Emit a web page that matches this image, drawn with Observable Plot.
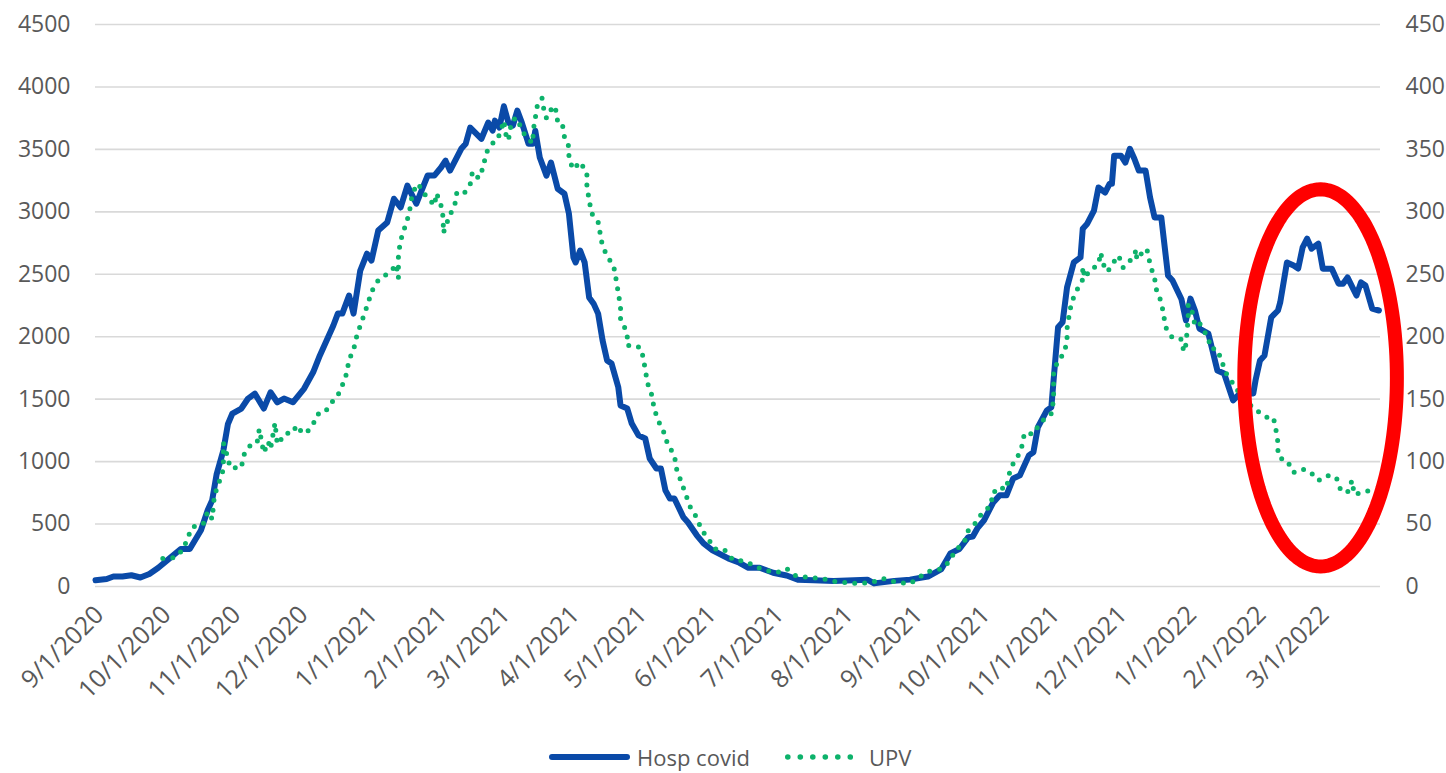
<!DOCTYPE html>
<html>
<head>
<meta charset="utf-8">
<script src="https://cdn.jsdelivr.net/npm/d3@7"></script>
<script src="https://cdn.jsdelivr.net/npm/@observablehq/plot@0.6"></script>
<style>
  html, body { margin: 0; padding: 0; background: #fff; overflow: hidden; }
  #chart svg { display: block; }
  .legend { display: flex; align-items: center; height: 33px; padding-left: 549px;
            font-family: "Open Sans", sans-serif; font-size: 22px; color: #595959; }
  .legend svg { display: block; }
</style>
</head>
<body>
<div id="chart"></div>
<div class="legend" id="legend"></div>
<script>
// ---- data (days counted from startDate) ----
const startDate = "2020-09-01";
const seriesNames = ["Hosp covid", "UPV"];

const hospDays = [0,5,8,12,16,20,24,28,33,38,42,47,50,52,54,57,59,61,65,68,71,75,78,81,84,88,93,97,100,103,106,108,110,113,115,118,121,123,126,130,133,136,139,143,148,151,154,156,158,163,165,167,172,175,177,178,180,182,184,186,188,190,193,195,196,198,201,203,206,209,211,213,214,216,218,220,222,224,226,228,230,233,234,237,239,242,245,247,250,252,254,256,258,262,264,268,271,275,282,287,291,296,302,308,313,320,329,338,344,347,356,363,371,377,381,385,389,391,393,396,400,403,406,409,412,416,418,420,424,426,428,429,431,433,436,439,440,442,445,447,450,452,453,454,457,459,461,463,465,468,470,472,475,478,480,484,486,488,490,492,496,500,503,507,510,516,517,519,521,524,527,528,531,534,536,538,540,542,545,547,551,554,556,558,562,564,566,569,572];
const hospValues = [50,60,80,80,90,72,100,150,225,300,300,450,610,690,900,1090,1300,1385,1425,1505,1545,1425,1555,1475,1505,1475,1585,1715,1850,1970,2090,2185,2185,2330,2185,2530,2665,2610,2850,2915,3105,3035,3210,3065,3290,3290,3355,3410,3330,3505,3545,3675,3585,3715,3650,3730,3675,3845,3715,3690,3810,3715,3545,3545,3650,3435,3290,3395,3185,3145,2985,2635,2595,2690,2595,2315,2265,2185,1970,1810,1785,1595,1450,1425,1305,1210,1185,1025,945,945,770,705,705,555,515,410,345,290,225,190,150,150,110,88,55,50,45,50,55,25,45,55,80,140,265,300,395,400,465,530,670,730,730,865,890,1050,1075,1275,1410,1435,1865,2075,2115,2395,2595,2635,2865,2905,3010,3195,3155,3225,3225,3450,3450,3395,3505,3425,3330,3330,3115,2955,2955,2490,2450,2300,2130,2305,2210,2065,2025,1730,1705,1490,1545,1545,1650,1810,1850,2155,2210,2275,2595,2570,2545,2715,2785,2705,2745,2545,2545,2425,2425,2475,2330,2435,2410,2225,2210];

const upvDays = [30,35,39,41,43,48,50,52,53,55,57,57,57,59,60,65,66,69,72,73,75,77,78,80,81,85,87,90,92,94,97,99,102,106,108,110,112,113,115,116,118,120,122,124,126,129,132,134,135,135,136,137,139,140,141,143,144,146,148,151,152,154,155,155,156,158,160,161,163,164,167,168,169,171,173,174,177,179,181,182,183,184,185,186,188,190,193,195,195,196,197,199,200,201,204,205,206,208,209,211,211,213,216,219,219,220,221,224,225,226,229,231,232,233,234,234,237,237,240,243,244,245,246,248,249,251,253,255,258,259,261,263,265,268,270,273,276,280,284,290,294,299,304,308,312,318,324,329,334,340,346,351,357,363,367,371,377,381,383,387,389,392,395,399,400,402,403,406,407,409,411,413,414,418,420,423,426,427,427,427,429,431,433,433,434,435,437,440,440,441,443,447,448,449,451,454,456,458,462,464,464,468,469,470,472,473,475,476,477,480,484,485,486,487,487,489,490,492,494,496,497,500,502,504,507,509,513,516,519,523,525,526,527,527,529,531,534,537,539,542,545,549,553,555,558,560,561,565,569];
const upvValues = [22.5,23,29.5,38.5,47.5,50,60,54,73,83,94,105,115,103,95,95,105,113,115,126,107,116,110,131,114,123,122,129,123,123,130,138,139,149,153,161,171,182,189,198,209,219,230,240,245,249,253,258,247,266,277,283,294,301,312,322,322,315,312,305,315,305,295,283,288,298,304,315,315,314,322,332,329,327,337,347,355,357,367,373,361,357,368,374,375,365,358,355,364,375,386,391,380,375,385,383,372,371,360,352,342,334,340,331,320,310,299,292,282,272,262,256,246,235,224,214,203,193,193,191,184,174,163,153,142,132,125,114,105,94,84,74,64,55,45.6,38.5,30,30,21.6,20,16,12.8,11.2,14.4,8.8,7.2,6.4,4,3.2,2.4,3.2,6.4,3.2,2.4,7.2,12,14,20.8,28.8,34.4,44.8,50.4,58.4,64.8,76,76,79,78,89,98.5,104,113,123,122,128,134.5,138.5,149.7,160,170.5,181.7,185,195,206.6,217.8,227.4,236,245.8,256,247,253,257.8,267.4,258.6,252,260.2,265,255.4,262.6,269.8,261.8,270.6,268,257.8,247,236,228,217.8,207.4,199,198,188,193.8,215,226,219,209,211,205,198.6,190.6,190,180,170.5,162.5,157,149,142.5,139.3,134.5,135,126.5,115.3,105,101.7,101,91.3,93.7,93.7,90.5,84.9,88.9,87.3,76.9,75.3,84.9,73.7,75.3,77.7];

const monthTicks = ["2020-09-01","2020-10-01","2020-11-01","2020-12-01","2021-01-01","2021-02-01","2021-03-01","2021-04-01","2021-05-01","2021-06-01","2021-07-01","2021-08-01","2021-09-01","2021-10-01","2021-11-01","2021-12-01","2022-01-01","2022-02-01","2022-03-01"];
const leftTicks = [0,500,1000,1500,2000,2500,3000,3500,4000,4500];
const rightTicks = [0,50,100,150,200,250,300,350,400,450];
const axisEndDay = 572.7;
// highlight ellipse (annotation), in data units
const highlightCenterDay = 546;
const highlightCenterValue = 1670;
const highlightRadiusDays = 34;
const highlightRadiusValue = 1510;

// ---- build ----
const DAY = 864e5;
const t0 = Date.parse(startDate);
const toDate = d => new Date(t0 + d * DAY);
const hosp = hospDays.map((d, i) => ({date: toDate(d), value: hospValues[i]}));
const upv = upvDays.map((d, i) => ({date: toDate(d), value: upvValues[i]}));
const ratio = leftTicks[leftTicks.length - 1] / rightTicks[rightTicks.length - 1];
const ellipse = d3.range(160).map(i => {
  const t = i / 160 * 2 * Math.PI;
  return {date: toDate(highlightCenterDay + highlightRadiusDays * Math.cos(t)),
          value: highlightCenterValue + highlightRadiusValue * Math.sin(t)};
});

const BLUE = "#0a4aa8", GREEN = "#0db26b";
const W = 1446, H = 740;
const fmt = d3.utcFormat("%-m/%-d/%Y");

const chart = Plot.plot({
  width: W, height: H,
  marginLeft: 95, marginRight: 66, marginTop: 24, marginBottom: H - 586,
  style: {fontFamily: '"Open Sans", sans-serif', fontSize: "23px", color: "#595959", background: "#fff", overflow: "visible"},
  x: {type: "utc", domain: [toDate(0), toDate(axisEndDay)]},
  y: {domain: [0, leftTicks[leftTicks.length - 1]]},
  marks: [
    Plot.gridY(leftTicks, {stroke: "#d9d9d9", strokeOpacity: 1, strokeWidth: 1.6}),
    Plot.axisY(leftTicks, {anchor: "left", tickSize: 0, tickPadding: 25, tickFormat: v => String(v), label: null}),
    Plot.axisY(rightTicks.map(v => v * ratio), {anchor: "right", tickSize: 0, tickPadding: 25, tickFormat: v => String(v / ratio), label: null}),
    Plot.axisX(monthTicks.map(s => new Date(s)), {anchor: "bottom", tickSize: 0, tickPadding: 24, tickRotate: -45, fontSize: 25, dx: 4, tickFormat: fmt, label: null}),
    Plot.line(hosp, {x: "date", y: "value", stroke: BLUE, strokeWidth: 6, strokeLinejoin: "round", strokeLinecap: "round"}),
    Plot.line(upv, {x: "date", y: d => d.value * ratio, stroke: GREEN, strokeWidth: 5, strokeDasharray: "0 10", strokeLinecap: "round"}),
    Plot.line(ellipse, {x: "date", y: "value", stroke: "#ff0000", strokeWidth: 14, curve: "linear-closed"})
  ]
});
document.getElementById("chart").append(chart);

// ---- legend ----
const legend = document.getElementById("legend");
const ns = "http://www.w3.org/2000/svg";
function swatch(kind) {
  const s = document.createElementNS(ns, "svg");
  if (kind === 0) {
    s.setAttribute("width", 81); s.setAttribute("height", 12);
    const l = document.createElementNS(ns, "line");
    l.setAttribute("x1", 3); l.setAttribute("x2", 78); l.setAttribute("y1", 6); l.setAttribute("y2", 6);
    l.setAttribute("stroke", BLUE); l.setAttribute("stroke-width", 6); l.setAttribute("stroke-linecap", "round");
    s.append(l);
  } else {
    s.setAttribute("width", 68); s.setAttribute("height", 12);
    for (let i = 0; i < 6; i++) {
      const c = document.createElementNS(ns, "circle");
      c.setAttribute("cx", 2.8 + i * 12.5); c.setAttribute("cy", 6); c.setAttribute("r", 2.8);
      c.setAttribute("fill", GREEN); s.append(c);
    }
  }
  return s;
}
seriesNames.forEach((name, i) => {
  const sw = swatch(i);
  if (i > 0) sw.style.marginLeft = "35px";
  legend.append(sw);
  const sp = document.createElement("span");
  sp.textContent = name;
  sp.style.marginLeft = i === 0 ? "7px" : "16px";
  legend.append(sp);
});
</script>
</body>
</html>
